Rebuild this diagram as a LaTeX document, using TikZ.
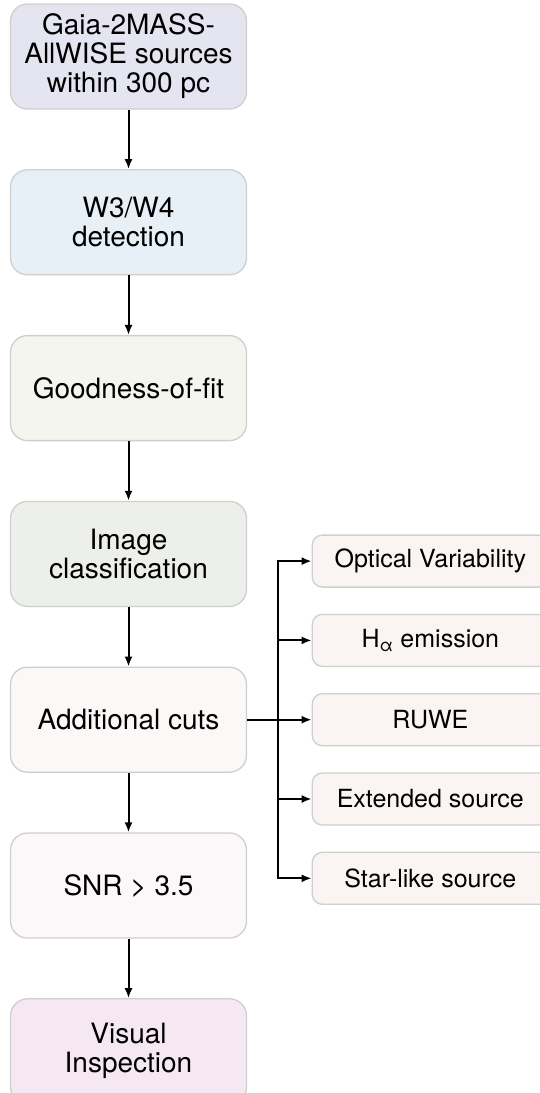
\documentclass[tikz,border=0pt]{standalone}
\usepackage{fontspec}
\setmainfont{TeX Gyre Heros}
\usepackage{xcolor}
\usepackage{tikz}
\usetikzlibrary{positioning, arrows.meta}

\definecolor{gaiacol}{HTML}{E5E5F2}
\definecolor{wisecol}{HTML}{E8F0F7}
\definecolor{fitcol}{HTML}{F5F5EF}
\definecolor{imgcol}{HTML}{EDF0EA}
\definecolor{cutcol}{HTML}{FBF8F7}
\definecolor{snrcol}{HTML}{FCF8F9}
\definecolor{viscol}{HTML}{F6E8F2}
\definecolor{sidecol}{HTML}{FAF5F3}
\definecolor{edgecol}{HTML}{CFCFCF}

\begin{document}
\begin{tikzpicture}[x=1pt, y=1pt, >={Latex[length=10pt,width=8pt]},
    stage/.style={draw=edgecol, line width=1.3pt, rounded corners=17pt,
        minimum width=236pt, minimum height=105pt, align=center,
        font=\fontsize{28}{29}\selectfont},
    cutbox/.style={draw=edgecol, line width=1.3pt, rounded corners=10pt,
        fill=sidecol, minimum width=236pt, minimum height=52pt,
        font=\fontsize{25}{27}\selectfont},
    flow/.style={->, line width=2pt}]
    \useasboundingbox (0,0) rectangle (539,-1093);

    % Hauptkette
    \node[stage, fill=gaiacol] (gaia) at (128.5,-56.5) {Gaia-2MASS-\\AllWISE sources\\within 300 pc};
    \node[stage, fill=wisecol, below=59.5pt of gaia] (wise) {W3/W4\\detection};
    \node[stage, fill=fitcol, below=59.5pt of wise] (fit) {Goodness-of-fit};
    \node[stage, fill=imgcol, below=59.5pt of fit] (img) {Image\\classification};
    \node[stage, fill=cutcol, below=59.5pt of img] (cuts) {Additional cuts};
    \node[stage, fill=snrcol, below=59.5pt of cuts] (snr) {SNR > 3.5};
    \node[stage, fill=viscol, below=59.5pt of snr] (vis) {Visual\\Inspection};

    % Zusaetzliche Schnitte
    \node[cutbox, right=64.5pt of cuts] (ruwe) {RUWE};
    \node[cutbox, above=26pt of ruwe] (halpha) {H\textsubscript{α} emission};
    \node[cutbox, above=26pt of halpha] (optvar) {Optical Variability};
    \node[cutbox, below=26pt of ruwe] (ext) {Extended source};
    \node[cutbox, below=26pt of ext] (star) {Star-like source};

    % Pfeile
    \draw[flow] (gaia) -- (wise);
    \draw[flow] (wise) -- (fit);
    \draw[flow] (fit) -- (img);
    \draw[flow] (img) -- (cuts);
    \draw[flow] (cuts) -- (snr);
    \draw[flow] (snr) -- (vis);

    \coordinate (bus) at ([xshift=30.5pt]cuts.east);
    \foreach \n in {optvar, halpha, ruwe, ext, star}
        \draw[flow] (cuts.east) -- (bus) |- (\n.west);

\end{tikzpicture}
\end{document}
